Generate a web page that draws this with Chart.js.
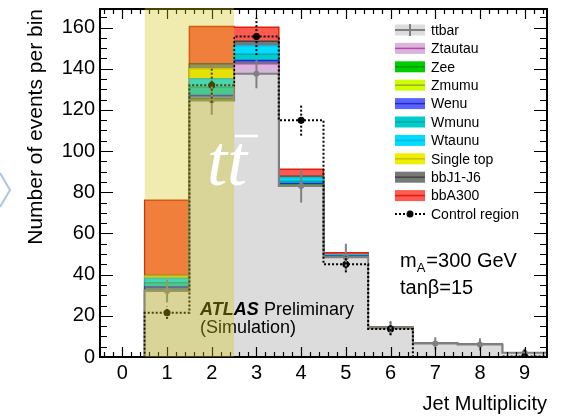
<!DOCTYPE html>
<html>
<head>
<meta charset="utf-8">
<script src="https://cdn.jsdelivr.net/npm/chart.js@4.4.0/dist/chart.umd.min.js"></script>
<style>
  html, body { margin: 0; padding: 0; background: #fff; }
  #wrap { width: 562px; height: 416px; }
</style>
</head>
<body>
<div id="wrap"><canvas id="jets"></canvas></div>
<script>
// Jet multiplicity bins
const bins = [0, 1, 2, 3, 4, 5, 6, 7, 8, 9];
const yTicks = [0, 20, 40, 60, 80, 100, 120, 140, 160];

// MC stack, events per bin (bottom to top)
const ttbar     = [0, 32.0, 124.6, 137.5, 83.0, 48.5, 14.0, 6.6, 6.1, 2.1];
const ztautau   = [0, 0.3, 0.3, 4.9, 0.3, 0.1, 0.05, 0, 0, 0];
const zee       = [0, 0.2, 0.5, 0.2, 0.2, 0.1, 0, 0, 0, 0];
const zmumu     = [0, 0.2, 0.3, 0.1, 0.1, 0, 0, 0, 0, 0];
const wenu      = [0, 1.3, 1.3, 1.3, 0.6, 0.2, 0.05, 0, 0, 0];
const wmunu     = [0, 2.0, 4.0, 3.0, 1.2, 0.3, 0.1, 0, 0, 0];
const wtaunu    = [0, 2.2, 4.1, 4.2, 1.7, 0.3, 0.1, 0, 0, 0];
const singleTop = [0, 1.1, 4.9, 0, 0.1, 0, 0, 0, 0, 0];
const bbJ1J6    = [0, 0.3, 2.4, 2.1, 0.6, 0.2, 0.1, 0, 0, 0];
const bbA300    = [0, 36.5, 18.1, 6.8, 3.4, 0.9, 0.2, 0, 0, 0];
const ttbarErr  = [0, 5.5, 7, 7, 8, 6.5, 3.5, 3, 3, 2];

// Control region
const control    = [0, 21.5, 132, 155.6, 115, 45.1, 13.6, 0, 0, 0.3];
const controlErr = [0, 3, 8.5, 9, 7.5, 4, 3, 0, 0, 3.5];

const layerNames = ["ttbar", "Ztautau", "Zee", "Zmumu", "Wenu", "Wmunu", "Wtaunu", "Single top", "bbJ1-J6", "bbA300"];
const layers = [ttbar, ztautau, zee, zmumu, wenu, wmunu, wtaunu, singleTop, bbJ1J6, bbA300];
const fillColors = ["#dcdcdc", "#d9b5d9", "#00cc00", "#ccff00", "#5a64ff", "#00cccc", "#00dcff", "#eeee00", "#777777", "#ff5a50"];
const lineColors = ["#808080", "#bb44bb", "#00a000", "#a8a830", "#2828c8", "#00a8a8", "#10b8e0", "#c8c000", "#444444", "#d82010"];

Chart.defaults.font.family = '"Liberation Sans", Arial, sans-serif';
Chart.defaults.color = "#000";

// histogram outline: points on bin edges, stepped
const edges = bins.map((b) => b - 0.5).concat(9.5);
const stepData = (vals) => edges.map((x, i) => ({ x: x, y: vals[Math.min(i, vals.length - 1)] }));

// cumulative stack
let running = bins.map(() => 0);
const cumul = layers.map((l) => {
  running = running.map((v, i) => v + l[i]);
  return running.slice();
});

const datasets = [];
datasets.push({
  label: "Control region points",
  data: bins.filter((b) => control[b] > 0).map((b) => ({ x: b, y: control[b] })),
  showLine: false,
  pointRadius: 3.5,
  pointBackgroundColor: "#000",
  pointBorderWidth: 0,
  order: 0,
});
datasets.push({
  label: "Control region",
  data: stepData(control),
  stepped: "before",
  borderColor: "#000",
  borderWidth: 2,
  borderDash: [2, 2],
  fill: false,
  pointRadius: 0,
  order: 1,
});
datasets.push({
  label: "ttbar points",
  data: bins.filter((b) => b > 0).map((b) => ({ x: b, y: ttbar[b] })),
  showLine: false,
  pointRadius: 3,
  pointBackgroundColor: "#808080",
  pointBorderWidth: 0,
  order: 2,
});
layers.forEach((l, k) => {
  datasets.push({
    label: layerNames[k],
    data: stepData(cumul[k]),
    stepped: "before",
    fill: "origin",
    backgroundColor: fillColors[k],
    borderColor: lineColors[k],
    borderWidth: k === 0 ? 2 : 1.5,
    pointRadius: 0,
    order: 10 + k,
  });
});

const decorations = {
  id: "decorations",
  afterDraw(chart) {
    const { ctx, chartArea: a, scales: { x, y } } = chart;
    ctx.save();

    // error bars
    ctx.save();
    ctx.beginPath();
    ctx.rect(a.left, a.top, a.right - a.left, a.bottom - a.top);
    ctx.clip();
    ctx.lineWidth = 2;
    ctx.strokeStyle = "#808080";
    bins.forEach((b) => {
      if (b === 0) return;
      ctx.beginPath();
      ctx.moveTo(x.getPixelForValue(b), y.getPixelForValue(ttbar[b] - ttbarErr[b]));
      ctx.lineTo(x.getPixelForValue(b), y.getPixelForValue(ttbar[b] + ttbarErr[b]));
      ctx.stroke();
    });
    ctx.strokeStyle = "#000";
    ctx.setLineDash([2, 2]);
    bins.forEach((b) => {
      if (controlErr[b] === 0) return;
      ctx.beginPath();
      ctx.moveTo(x.getPixelForValue(b), y.getPixelForValue(control[b] - controlErr[b]));
      ctx.lineTo(x.getPixelForValue(b), y.getPixelForValue(control[b] + controlErr[b]));
      ctx.stroke();
    });
    ctx.restore();

    // frame + inward ticks
    ctx.strokeStyle = "#000";
    ctx.lineWidth = 2;
    ctx.strokeRect(a.left, a.top, a.right - a.left, a.bottom - a.top);
    ctx.lineWidth = 1.2;
    ctx.beginPath();
    for (let i = -2; i <= 47; i++) {
      const v = i / 5;
      const px = Math.round(x.getPixelForValue(v)) + 0.5;
      const len = i % 5 === 0 ? 10 : 5;
      ctx.moveTo(px, a.bottom); ctx.lineTo(px, a.bottom - len);
      ctx.moveTo(px, a.top); ctx.lineTo(px, a.top + len);
    }
    for (let v = 0; v <= 165; v += 5) {
      const py = Math.round(y.getPixelForValue(v)) + 0.5;
      const len = v % 20 === 0 ? 13 : 7;
      ctx.moveTo(a.left, py); ctx.lineTo(a.left + len, py);
      ctx.moveTo(a.right, py); ctx.lineTo(a.right - len, py);
    }
    ctx.stroke();

    // ATLAS label
    ctx.fillStyle = "#000";
    ctx.textBaseline = "alphabetic";
    ctx.font = 'italic bold 18px "Liberation Sans"';
    ctx.fillText("ATLAS", 200, 315);
    ctx.font = '18px "Liberation Sans"';
    ctx.fillText("Preliminary", 264, 315);
    ctx.fillText("(Simulation)", 200, 333);

    // control region band
    const x0 = x.getPixelForValue(0.5), x1 = x.getPixelForValue(2.5);
    ctx.fillStyle = "rgba(211,198,21,0.34)";
    ctx.fillRect(x0, a.top - 1, x1 - x0, a.bottom - a.top + 1);

    // t tbar
    ctx.fillStyle = "#fff";
    ctx.strokeStyle = "#fff";
    ctx.font = 'italic 72px "Liberation Serif"';
    ctx.fillText("tt", 207, 185);
    ctx.lineWidth = 2.5;
    ctx.beginPath();
    ctx.moveTo(235, 136); ctx.lineTo(258, 136);
    ctx.stroke();

    // legend
    ctx.font = '14px "Liberation Sans"';
    ctx.textBaseline = "middle";
    const lx = 395, ly = 30, dy = 18.4;
    layerNames.forEach((name, k) => {
      const cy = ly + k * dy;
      ctx.fillStyle = fillColors[k];
      ctx.fillRect(lx, cy - 5.5, 30, 11);
      ctx.strokeStyle = lineColors[k];
      ctx.lineWidth = k === 0 ? 2 : 1.5;
      ctx.beginPath();
      ctx.moveTo(lx, cy); ctx.lineTo(lx + 30, cy);
      if (k === 0) { ctx.moveTo(lx + 15, cy - 6); ctx.lineTo(lx + 15, cy + 6); }
      ctx.stroke();
      ctx.fillStyle = "#000";
      ctx.fillText(name, 431, cy + 1);
    });
    const cy = ly + layerNames.length * dy;
    ctx.strokeStyle = "#000";
    ctx.lineWidth = 2;
    ctx.setLineDash([2, 2]);
    ctx.beginPath();
    ctx.moveTo(lx, cy); ctx.lineTo(lx + 30, cy);
    ctx.stroke();
    ctx.setLineDash([]);
    ctx.fillStyle = "#000";
    ctx.beginPath();
    ctx.arc(lx + 15, cy, 3.5, 0, Math.PI * 2);
    ctx.fill();
    ctx.fillText("Control region", 431, cy + 1);

    // model parameters
    ctx.textBaseline = "alphabetic";
    ctx.font = '20px "Liberation Sans"';
    ctx.fillText("m", 400, 267);
    let w = ctx.measureText("m").width;
    ctx.font = '13px "Liberation Sans"';
    ctx.fillText("A", 400 + w, 272);
    w += ctx.measureText("A").width + 1;
    ctx.font = '20px "Liberation Sans"';
    ctx.fillText("=300 GeV", 400 + w, 267);
    ctx.fillText("tan\u03b2=15", 400, 294);

    // slide arrow at the left edge
    ctx.strokeStyle = "#a9c6e6";
    ctx.lineWidth = 2;
    ctx.beginPath();
    ctx.moveTo(0, 173); ctx.lineTo(10, 190); ctx.lineTo(0, 207);
    ctx.stroke();

    ctx.restore();
  },
};

new Chart(document.getElementById("jets"), {
  type: "line",
  data: { datasets: datasets },
  plugins: [decorations],
  options: {
    responsive: true,
    maintainAspectRatio: false,
    animation: false,
    events: [],
    layout: { padding: { left: 24, top: 9, right: 15, bottom: 0 } },
    plugins: { legend: { display: false }, tooltip: { enabled: false } },
    scales: {
      x: {
        type: "linear",
        min: -0.5,
        max: 9.5,
        grid: { display: false, drawTicks: false },
        border: { display: false },
        ticks: { font: { size: 20 }, padding: 4, maxRotation: 0, autoSkip: false },
        afterBuildTicks: (s) => { s.ticks = bins.map((v) => ({ value: v })); },
        afterFit: (s) => { s.height = 59; s.paddingLeft = 0; s.paddingRight = 0; },
        title: { display: true, text: "Jet Multiplicity", align: "end", font: { size: 20 }, padding: 0 },
      },
      y: {
        min: 0,
        max: 169,
        grid: { display: false, drawTicks: false },
        border: { display: false },
        ticks: { font: { size: 20 }, padding: 5 },
        afterBuildTicks: (s) => { s.ticks = yTicks.map((v) => ({ value: v })); },
        afterFit: (s) => { s.width = 76; s.paddingTop = 0; s.paddingBottom = 0; },
        title: { display: true, text: "Number of events per bin", align: "end", font: { size: 21 }, padding: 0 },
      },
    },
  },
});
</script>
</body>
</html>
